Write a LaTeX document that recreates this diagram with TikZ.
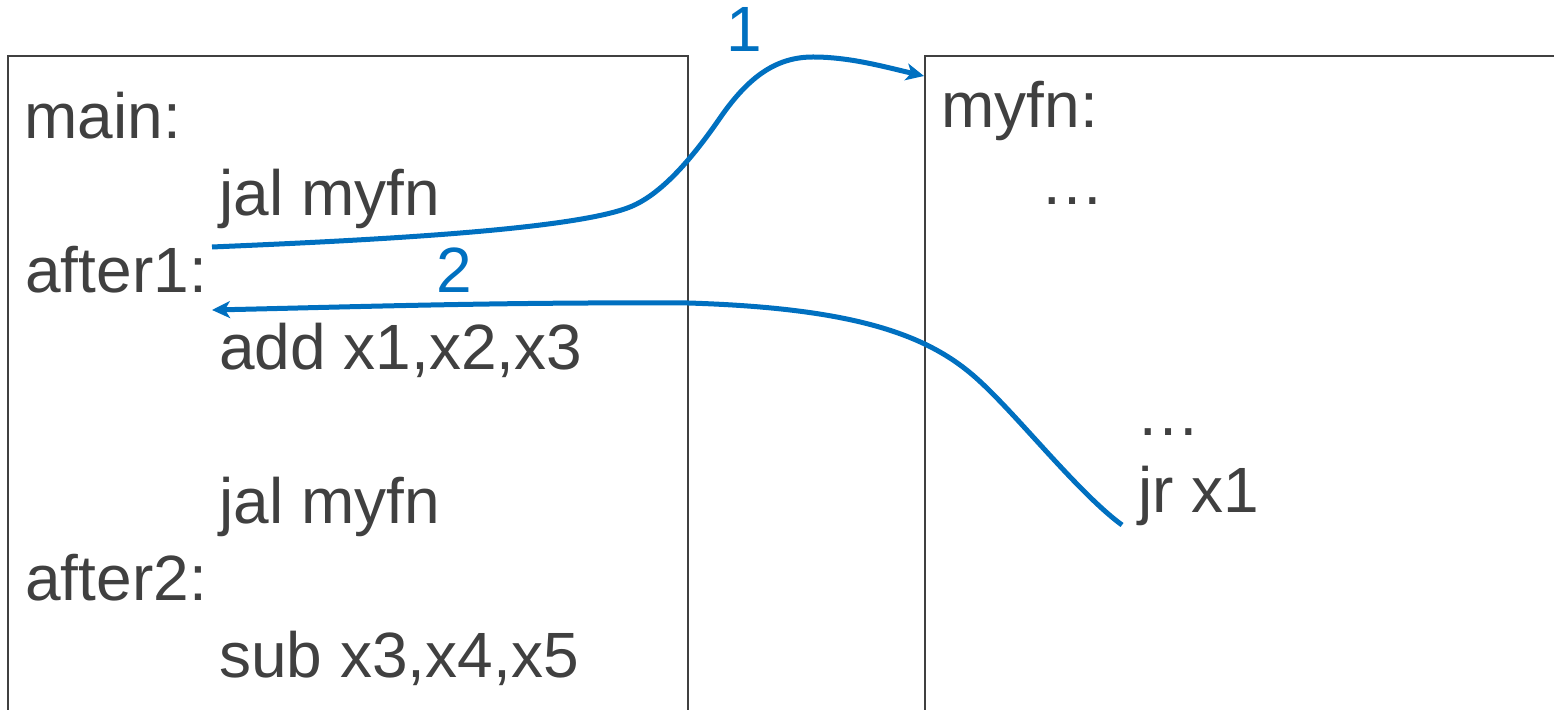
\documentclass[tikz,border=0pt]{standalone}
\usepackage{fontspec}
\setmainfont{Liberation Sans}
\usetikzlibrary{arrows.meta}
\definecolor{txt}{HTML}{404040}
\definecolor{arr}{HTML}{0070C0}
\begin{document}
\begin{tikzpicture}[x=0.5pt,y=-0.5pt,
  lbl/.style={anchor=base west,inner sep=0pt,text=txt,font=\fontsize{32}{38}\selectfont},
  num/.style={anchor=base west,inner sep=0pt,text=arr,font=\fontsize{32}{38}\selectfont},
  boxline/.style={draw=txt,line width=1pt},
  flow/.style={draw=arr,line width=2.5pt,-{Stealth[length=9pt,width=8.5pt,inset=2.5pt]}}]
\useasboundingbox (0,0) rectangle (1554,710);
\clip (0,0) rectangle (1554,710);
% boxes (cut off by the picture's edges)
\draw[boxline] (8,760) -- (8,56) -- (688,56) -- (688,760);
\draw[boxline] (925,760) -- (925,56) -- (1600,56);
% left column
\node[lbl] (main)   at (24,139) {main:};
\node[lbl] (jal1)   at (219,216) {jal myfn};
\node[lbl] (after1) at (25,293) {after1:};
\node[lbl] (add)    at (219,370) {add x1,x2,x3};
\node[lbl] (jal2)   at (219,524) {jal myfn};
\node[lbl] (after2) at (25,601) {after2:};
\node[lbl] (sub)    at (219,678) {sub x3,x4,x5};
% right column
\node[lbl] (myfn)   at (941,128) {myfn:};
\node[lbl] (dots1)  at (1040,205) {…};
\node[lbl] (dots2)  at (1136,436) {…};
\node[lbl] (jr)     at (1138,513) {jr x1};
% labels
\node[num] (one) at (726,52) {1};
\node[num] (two) at (436,293) {2};
% connector end points
\coordinate (call)  at (212,247);
\coordinate (entry) at (924,76);
\coordinate (ret)   at (1122,525);
\coordinate (back)  at (212,310);
% arrows
\draw[flow] (call) .. controls (352,241) and (570,231) .. (630,207)
  .. controls (660,195) and (690,161.5) .. (720,118)
  .. controls (750,74.5) and (778,57) .. (813,57)
  .. controls (850,57) and (885,67) .. (entry);
\draw[flow] (ret) .. controls (1077,492) and (1015,412) .. (975,377)
  .. controls (925,333) and (850,308) .. (688,303)
  .. controls (500,302) and (350,307) .. (back);
\end{tikzpicture}
\end{document}
